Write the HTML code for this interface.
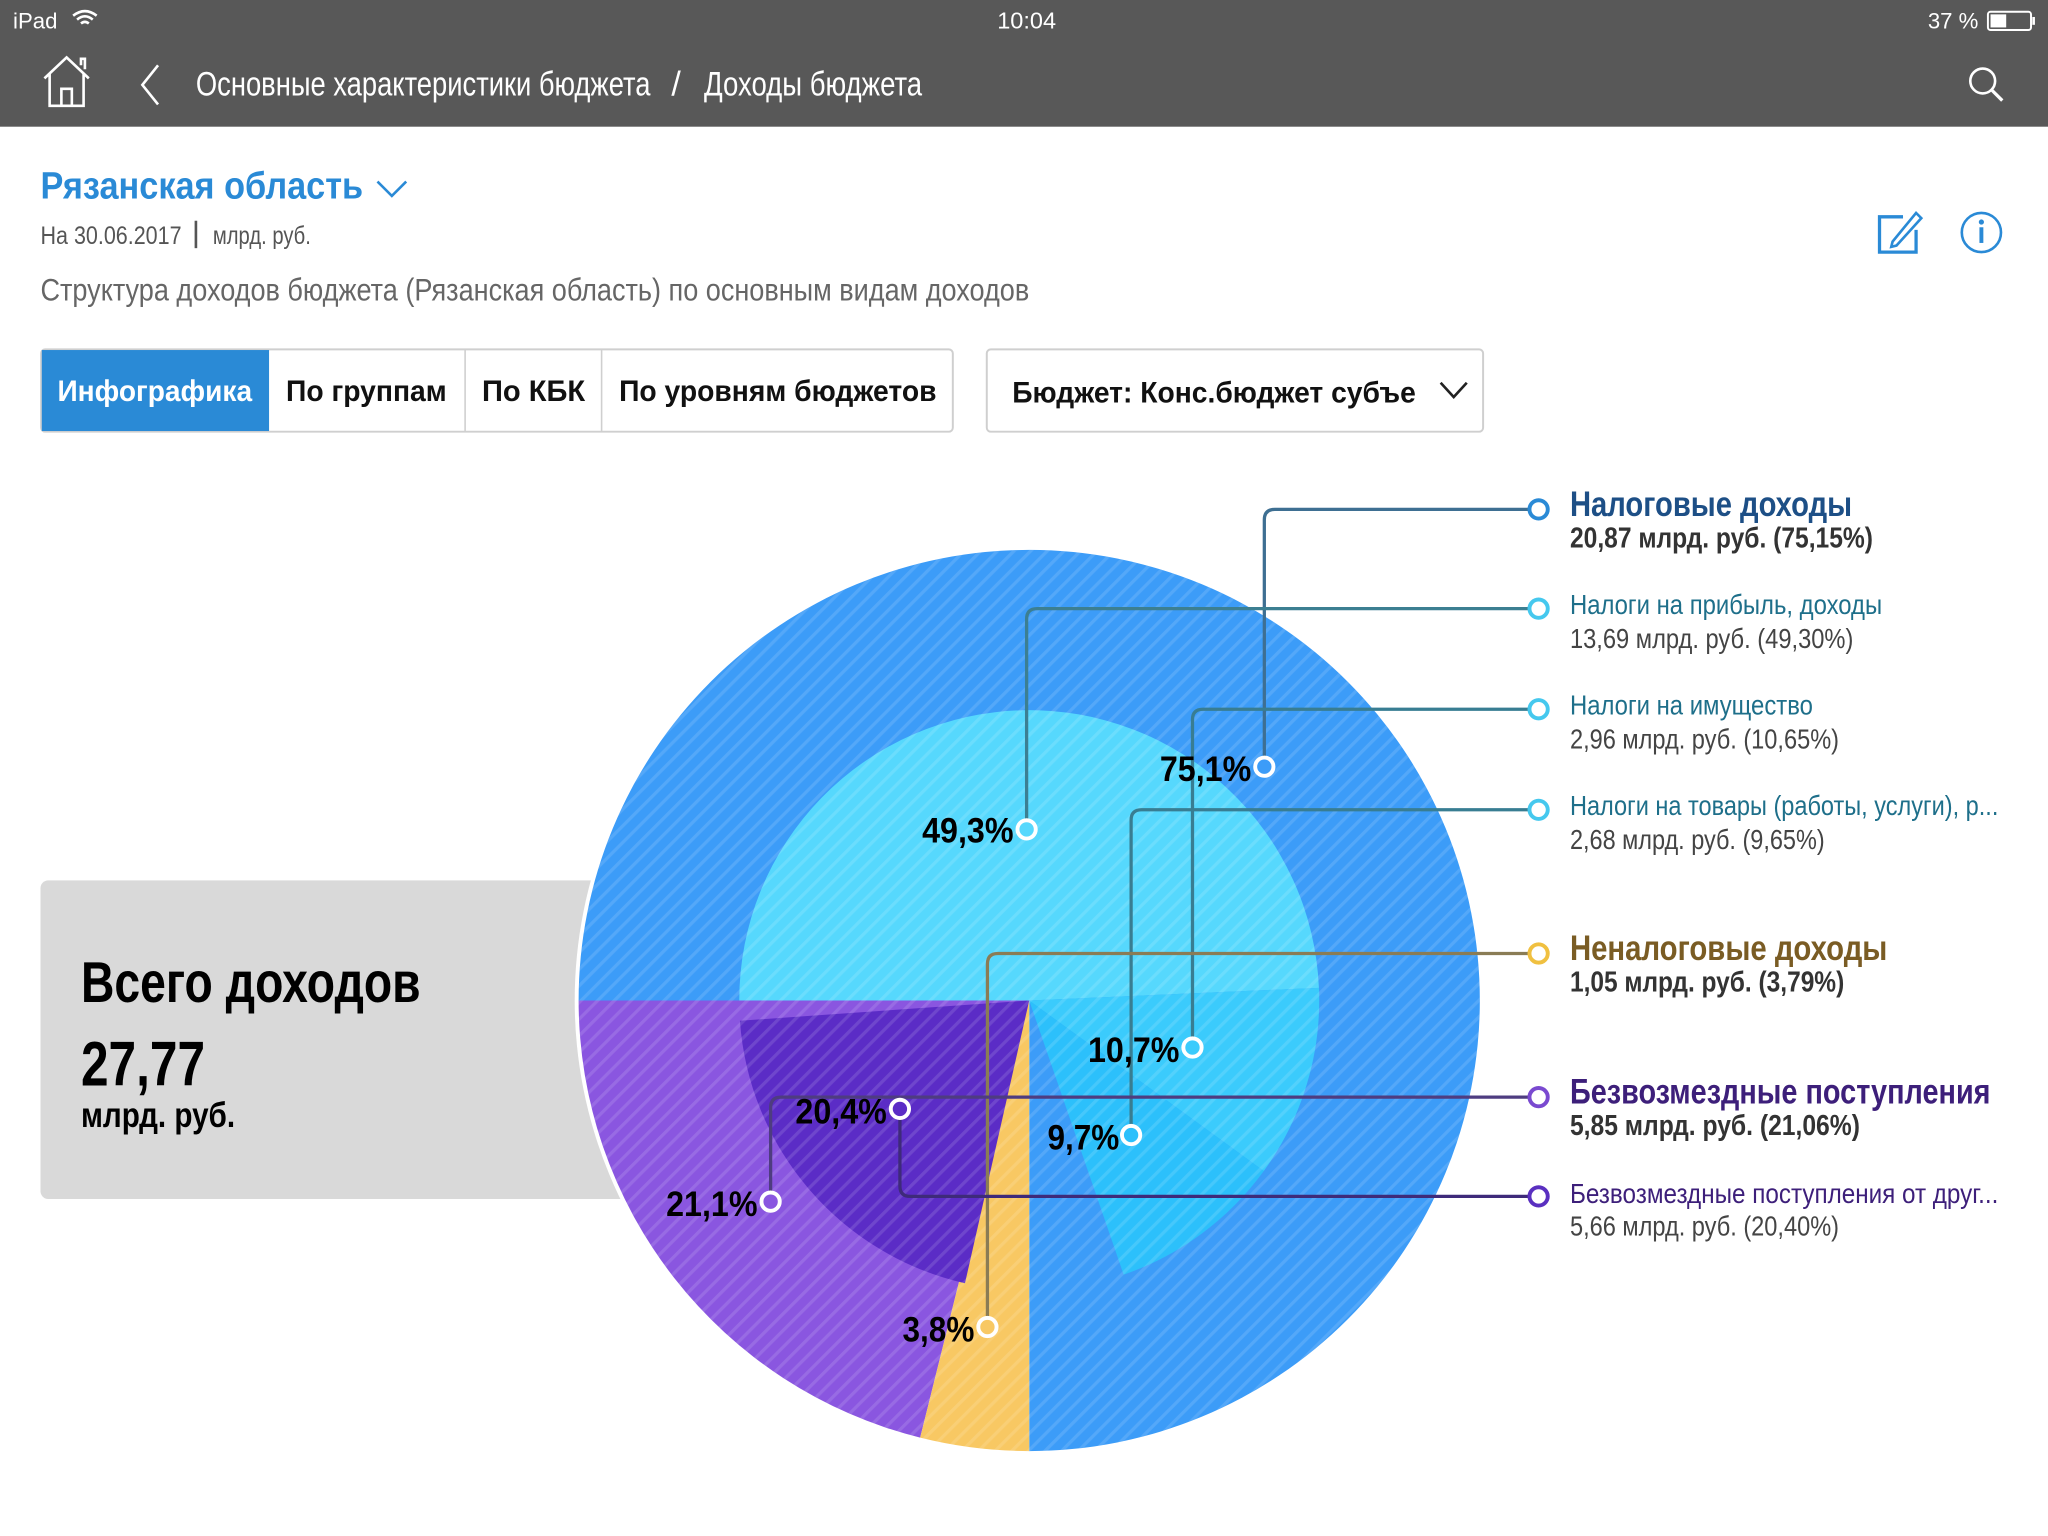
<!DOCTYPE html>
<html><head><meta charset="utf-8"><style>
html,body{margin:0;padding:0;background:#fff;}
svg{display:block;}
text{font-family:"Liberation Sans Narrow","Liberation Sans","DejaVu Sans Condensed",sans-serif;}
</style></head><body>
<svg width="2048" height="1536" viewBox="0 0 1568 1176" xmlns="http://www.w3.org/2000/svg">
<defs>
<pattern id="h" width="9" height="9" patternUnits="userSpaceOnUse" patternTransform="rotate(45)">
<rect x="0" y="0" width="2.5" height="9" fill="#fff" fill-opacity="0.12"/>
</pattern>
</defs>
<rect width="1568" height="1176" fill="#fff"/>
<!-- header -->
<rect x="0" y="0" width="1568" height="97" fill="#585858"/>
<text x="10" y="22" font-size="17" fill="#fff" font-family="Liberation Sans">iPad</text>
<path d="M56 12 Q65 5 74 12 M59 15 Q65 10 71 15 M62 18 Q65 15.5 68 18" stroke="#fff" stroke-width="2" fill="none"/>
<text x="786" y="22" font-size="18" fill="#fff" text-anchor="middle" font-family="Liberation Sans">10:04</text>
<text x="1476" y="22" font-size="17" fill="#fff" font-family="Liberation Sans">37 %</text>
<rect x="1522" y="9" width="33" height="14" rx="2" fill="none" stroke="#fff" stroke-width="1.5"/>
<rect x="1524" y="11" width="12" height="10" fill="#fff"/>
<rect x="1556" y="13" width="2" height="6" fill="#fff"/>
<path d="M34 60 L51 44 L68 60 M38 56 V81 H64 V56 M47 81 V68 H55 V81 M62 50 V45 H65 V53" stroke="#fff" stroke-width="2" fill="none"/>
<path d="M121 50 L109 65 L121 80" stroke="#fff" stroke-width="2" fill="none"/>
<text x="150" y="73" font-size="26" fill="#fff" textLength="348" lengthAdjust="spacingAndGlyphs">Основные характеристики бюджета</text>
<text x="514" y="73" font-size="26" fill="#fff">/</text>
<text x="539" y="73" font-size="26" fill="#fff" textLength="167" lengthAdjust="spacingAndGlyphs">Доходы бюджета</text>
<circle cx="1518" cy="62" r="9.5" fill="none" stroke="#fff" stroke-width="2"/>
<path d="M1525 69 L1533 77" stroke="#fff" stroke-width="2.5"/>
<!-- title -->
<text x="31" y="152" font-size="29" font-weight="bold" fill="#2a8ad6" textLength="247" lengthAdjust="spacingAndGlyphs">Рязанская область</text>
<path d="M289 139 L300 150 L311 139" stroke="#2a8ad6" stroke-width="2" fill="none"/>
<text x="31" y="187" font-size="19" fill="#555" textLength="108" lengthAdjust="spacingAndGlyphs">На 30.06.2017</text>
<rect x="149" y="169" width="2" height="21" fill="#555"/>
<text x="163" y="187" font-size="19" fill="#555" textLength="75" lengthAdjust="spacingAndGlyphs">млрд. руб.</text>
<text x="31" y="230" font-size="24" fill="#666" textLength="757" lengthAdjust="spacingAndGlyphs">Структура доходов бюджета (Рязанская область) по основным видам доходов</text>
<!-- icons -->
<path d="M1457 166 H1439 V193 H1467 V176" stroke="#2a8ad6" stroke-width="2.5" fill="none"/>
<path d="M1449 185 L1467 163 L1471 167 L1452 188 L1448 189 Z" stroke="#2a8ad6" stroke-width="2" fill="none"/>
<circle cx="1517" cy="178" r="15" fill="none" stroke="#2a8ad6" stroke-width="2"/>
<circle cx="1517" cy="170" r="2" fill="#2a8ad6"/>
<rect x="1515.5" y="174" width="3" height="12" fill="#2a8ad6"/>
<!-- tabs -->
<rect x="31.5" y="267.5" width="698" height="63" rx="3" fill="#fff" stroke="#cfcfcf" stroke-width="1.5"/>
<rect x="32" y="268" width="174" height="62" fill="#2a8ad6"/>
<rect x="355.5" y="268" width="1.2" height="62" fill="#cfcfcf"/>
<rect x="460" y="268" width="1.2" height="62" fill="#cfcfcf"/>
<text x="44" y="307" font-size="23" font-weight="bold" fill="#fff" textLength="149" lengthAdjust="spacingAndGlyphs">Инфографика</text>
<text x="219" y="307" font-size="23" font-weight="bold" fill="#111" textLength="123" lengthAdjust="spacingAndGlyphs">По группам</text>
<text x="369" y="307" font-size="23" font-weight="bold" fill="#111" textLength="79" lengthAdjust="spacingAndGlyphs">По КБК</text>
<text x="474" y="307" font-size="23" font-weight="bold" fill="#111" textLength="243" lengthAdjust="spacingAndGlyphs">По уровням бюджетов</text>
<rect x="755.5" y="267.5" width="380" height="63" rx="3" fill="#fff" stroke="#cfcfcf" stroke-width="1.5"/>
<text x="775" y="308" font-size="23" font-weight="bold" fill="#111" textLength="309" lengthAdjust="spacingAndGlyphs">Бюджет: Конс.бюджет субъе</text>
<path d="M1103 293 L1113 304 L1123 293" stroke="#222" stroke-width="2" fill="none"/>
<!-- gray box -->
<rect x="31" y="674" width="460" height="244" rx="6" fill="#d9d9d9"/>
<text x="62" y="767" font-size="44" font-weight="bold" fill="#000" textLength="260" lengthAdjust="spacingAndGlyphs">Всего доходов</text>
<text x="62" y="831" font-size="48" font-weight="bold" fill="#000" textLength="95" lengthAdjust="spacingAndGlyphs">27,77</text>
<text x="62" y="863" font-size="27" font-weight="bold" fill="#000" textLength="118" lengthAdjust="spacingAndGlyphs">млрд. руб.</text>
<!-- pie -->
<circle cx="788" cy="766" r="348" fill="#fff"/>
<path d="M788,766 L443,766 A345,345 0 1 1 788,1111 Z" fill="#3c9cf8"/>
<path d="M788,766 L704.5,1100.7 A345,345 0 0 1 443,766 Z" fill="#8a56e0"/>
<path d="M788,766 L788,1111 A345,345 0 0 1 704.5,1100.7 Z" fill="#f8c863"/>
<path d="M788,766 L566,766 A222,222 0 0 1 1009.8,756.3 Z" fill="#56d8fd"/>
<path d="M788,766 L1009.8,756.3 A222,222 0 0 1 967.6,896.5 Z" fill="#3bcbfc"/>
<path d="M788,766 L967.6,896.5 A222,222 0 0 1 860.3,975.9 Z" fill="#2cc0fb"/>
<path d="M788,766 L738.8,982.5 A222,222 0 0 1 566.5,781.5 Z" fill="#5b2cc6"/>
<circle cx="788" cy="766" r="345" fill="url(#h)"/>
<!-- leader lines -->
<g fill="none" stroke-width="2.5">
<path d="M968 587 V398 Q968 390 976 390 H1171" stroke="#3e6f92"/>
<path d="M786 635 V474 Q786 466 794 466 H1171" stroke="#3c7f92"/>
<path d="M913 802 V551 Q913 543 921 543 H1171" stroke="#387d92"/>
<path d="M866 869 V628 Q866 620 874 620 H1171" stroke="#387d92"/>
<path d="M756 1016 V738 Q756 730 764 730 H1171" stroke="#8a7c55"/>
<path d="M590 920 V848 Q590 840 598 840 H1171" stroke="#4e3c80"/>
<path d="M689 849 V908 Q689 916 697 916 H1171" stroke="#3e2a7a"/>
</g>
<g stroke="#fff" stroke-width="3">
<circle cx="968" cy="587" r="7" fill="#3c9cf8"/>
<circle cx="786" cy="635" r="7" fill="#56d8fd"/>
<circle cx="913" cy="802" r="7" fill="#3bcbfc"/>
<circle cx="866" cy="869" r="7" fill="#2cc0fb"/>
<circle cx="756" cy="1016" r="7" fill="#f8c863"/>
<circle cx="590" cy="920" r="7" fill="#8a56e0"/>
<circle cx="689" cy="849" r="7" fill="#5b2cc6"/>
</g>
<g fill="#fff" stroke-width="3">
<circle cx="1178" cy="390" r="7" stroke="#2a8ad6"/>
<circle cx="1178" cy="466" r="7" stroke="#45c8ee"/>
<circle cx="1178" cy="543" r="7" stroke="#45c8ee"/>
<circle cx="1178" cy="620" r="7" stroke="#45c8ee"/>
<circle cx="1178" cy="730" r="7" stroke="#f0c040"/>
<circle cx="1178" cy="840" r="7" stroke="#7a4ad0"/>
<circle cx="1178" cy="916" r="7" stroke="#5a30c0"/>
</g>
<!-- percent labels -->
<g font-size="27" font-weight="bold" fill="#000" text-anchor="end">
<text x="958" y="598" textLength="70" lengthAdjust="spacingAndGlyphs">75,1%</text>
<text x="776" y="645" textLength="70" lengthAdjust="spacingAndGlyphs">49,3%</text>
<text x="903" y="813" textLength="70" lengthAdjust="spacingAndGlyphs">10,7%</text>
<text x="857" y="880" textLength="55" lengthAdjust="spacingAndGlyphs">9,7%</text>
<text x="679" y="860" textLength="70" lengthAdjust="spacingAndGlyphs">20,4%</text>
<text x="580" y="931" textLength="70" lengthAdjust="spacingAndGlyphs">21,1%</text>
<text x="746" y="1027" textLength="55" lengthAdjust="spacingAndGlyphs">3,8%</text>
</g>
<!-- legend -->
<text x="1202" y="395" font-size="27" font-weight="bold" fill="#1d4f86" textLength="216" lengthAdjust="spacingAndGlyphs">Налоговые доходы</text>
<text x="1202" y="419" font-size="22" font-weight="bold" fill="#333" textLength="232" lengthAdjust="spacingAndGlyphs">20,87 млрд. руб. (75,15%)</text>
<text x="1202" y="470" font-size="21" fill="#1e6f8a" textLength="239" lengthAdjust="spacingAndGlyphs">Налоги на прибыль, доходы</text>
<text x="1202" y="496" font-size="21" fill="#444" textLength="217" lengthAdjust="spacingAndGlyphs">13,69 млрд. руб. (49,30%)</text>
<text x="1202" y="547" font-size="21" fill="#1e6f8a" textLength="186" lengthAdjust="spacingAndGlyphs">Налоги на имущество</text>
<text x="1202" y="573" font-size="21" fill="#444" textLength="206" lengthAdjust="spacingAndGlyphs">2,96 млрд. руб. (10,65%)</text>
<text x="1202" y="624" font-size="21" fill="#1e6f8a" textLength="328" lengthAdjust="spacingAndGlyphs">Налоги на товары (работы, услуги), р...</text>
<text x="1202" y="650" font-size="21" fill="#444" textLength="195" lengthAdjust="spacingAndGlyphs">2,68 млрд. руб. (9,65%)</text>
<text x="1202" y="735" font-size="27" font-weight="bold" fill="#7a5c24" textLength="243" lengthAdjust="spacingAndGlyphs">Неналоговые доходы</text>
<text x="1202" y="759" font-size="22" font-weight="bold" fill="#333" textLength="210" lengthAdjust="spacingAndGlyphs">1,05 млрд. руб. (3,79%)</text>
<text x="1202" y="845" font-size="27" font-weight="bold" fill="#3d1f7a" textLength="322" lengthAdjust="spacingAndGlyphs">Безвозмездные поступления</text>
<text x="1202" y="869" font-size="22" font-weight="bold" fill="#333" textLength="222" lengthAdjust="spacingAndGlyphs">5,85 млрд. руб. (21,06%)</text>
<text x="1202" y="921" font-size="21" fill="#3d1f7a" textLength="328" lengthAdjust="spacingAndGlyphs">Безвозмездные поступления от друг...</text>
<text x="1202" y="946" font-size="21" fill="#444" textLength="206" lengthAdjust="spacingAndGlyphs">5,66 млрд. руб. (20,40%)</text>
</svg>
</body></html>
